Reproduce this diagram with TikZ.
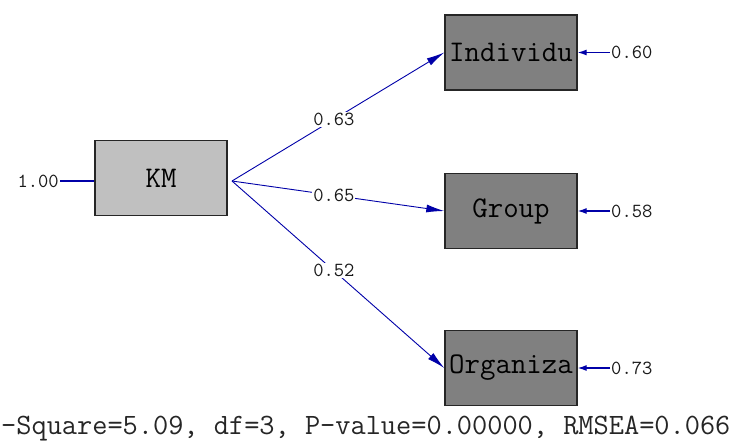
\documentclass[tikz,border=0pt]{standalone}
\usetikzlibrary{arrows.meta}
\definecolor{pathblue}{HTML}{0000A8}
\definecolor{lightbox}{HTML}{C0C0C0}
\definecolor{darkbox}{HTML}{808080}
\tikzset{
  var/.style={draw=black!85, line width=1.4pt, minimum width=132pt, minimum height=75pt, inner sep=0pt, font=\ttfamily\fontsize{30}{30}\selectfont},
  latent/.style={var, fill=lightbox},
  observed/.style={var, fill=darkbox},
  path/.style={draw=pathblue, line width=0.9pt, -{Latex[length=18pt,width=8pt]}},
  errpath/.style={draw=pathblue, line width=1.2pt, -{Latex[length=9pt,width=6pt]}},
  coef/.style={font=\ttfamily\fontsize{20}{20}\selectfont, text=black!90, fill=white, inner sep=1pt},
  stat/.style={font=\ttfamily\fontsize{29.5}{29.5}\selectfont, text=black!85, inner sep=0pt}
}
\begin{document}
\begin{tikzpicture}[x=1pt, y=-1pt]
\useasboundingbox (0,0) rectangle (736,442);
\node[latent] (km) at (161,178) {KM};
\node[observed] (ind) at (511,52.5) {Individu};
\node[observed] (grp) at (511,211) {Group};
\node[observed] (org) at (511,368) {Organiza};
\coordinate (src) at (232,181);
\node[coef, anchor=east] (v) at (60,181) {1.00};
\draw[draw=pathblue, line width=1.1pt] (v.east) -- (v.east -| km.west);
\draw[path] (src) -- node[coef, pos=0.48] {0.63} (ind.west);
\draw[path] (src) -- node[coef, pos=0.48] {0.65} (grp.west);
\draw[path] (src) -- node[coef, pos=0.48] {0.52} (org.west);
\node[coef, anchor=west] (e1) at (610,52.5) {0.60};
\node[coef, anchor=west] (e2) at (610,211) {0.58};
\node[coef, anchor=west] (e3) at (610,368) {0.73};
\draw[errpath] (e1.west) -- (ind.east);
\draw[errpath] (e2.west) -- (grp.east);
\draw[errpath] (e3.west) -- (org.east);
\node[stat, anchor=west] (fit) at (1,429) {-Square=5.09, df=3, P-value=0.00000, RMSEA=0.066};
\end{tikzpicture}
\end{document}
